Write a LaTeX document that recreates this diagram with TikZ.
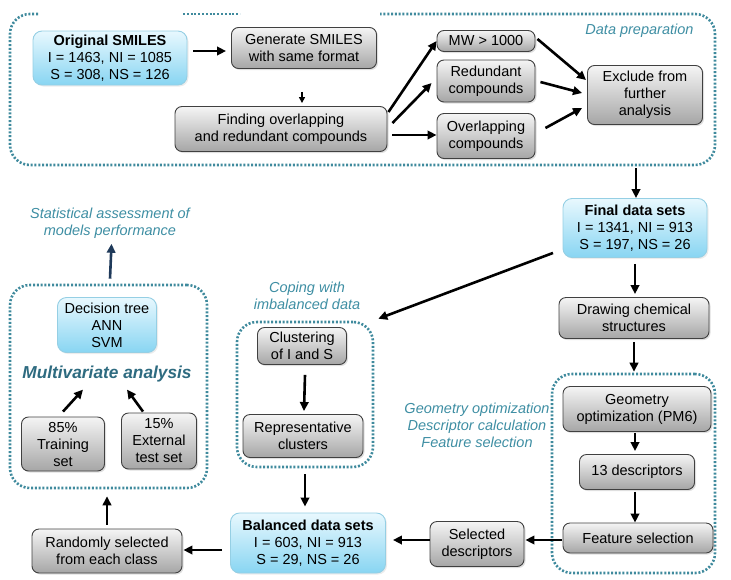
\documentclass[tikz,border=0pt]{standalone}
\usepackage{fontspec}
\setmainfont{Liberation Sans}
\usepackage{tikz}
\usetikzlibrary{arrows.meta}
\usetikzlibrary{shadows}

\definecolor{tealline}{HTML}{3F8A9D}
\definecolor{tealtext}{HTML}{3E8EA3}
\definecolor{tealdark}{HTML}{2E6B80}
\definecolor{navyarrow}{HTML}{1F3A5A}
\definecolor{bluetop}{HTML}{E8F8FE}
\definecolor{bluebot}{HTML}{88D5F2}
\definecolor{blueline}{HTML}{95CFE4}

\begin{document}
\begin{tikzpicture}[x=1pt, y=-1pt,
        font=\fontsize{14.5}{17}\selectfont,
        graybox/.style={draw=black!75, line width=0.9pt, rounded corners=7pt, align=center,
            top color=black!4, bottom color=black!35, inner sep=1pt,
            drop shadow={shadow xshift=1.5pt, shadow yshift=-1.5pt, opacity=0.25}},
        bluebox/.style={draw=blueline, line width=0.9pt, rounded corners=9pt, align=center,
            top color=bluetop, bottom color=bluebot, inner sep=1pt,
            drop shadow={shadow xshift=1.5pt, shadow yshift=-1.5pt, opacity=0.15}},
        grpline/.style={draw=tealline, line width=2.6pt, dash pattern=on 2pt off 1.8pt},
        grpbox/.style={grpline, rounded corners=20pt, inner sep=0pt},
        note/.style={text=tealtext, font=\fontsize{14.5}{17}\selectfont\itshape, align=center},
        arr/.style={-{Triangle[length=9pt,width=8.5pt]}, line width=2.6pt}]
    \useasboundingbox (0,0) rectangle (731,579);

    % data preparation
    \draw[grpline, rounded corners=20pt] (38,14) -- (10,14) -- (10,165) -- (715,165) -- (715,14) -- (380,14);
    \draw[grpline] (183,14) -- (240,14);
    \node[note, anchor=east] (prep) at (697,31) {Data preparation};

    \node[bluebox, minimum width=154pt, minimum height=54pt] (orig) at (110,58)
        {\textbf{Original SMILES}\\I = 1463, NI = 1085\\S = 308, NS = 126};
    \node[graybox, minimum width=145pt, minimum height=41pt] (gen) at (304,48) {Generate SMILES\\with same format};
    \node[graybox, minimum width=212pt, minimum height=45pt] (find) at (281,129) {Finding overlapping\\and redundant compounds};
    \node[graybox, minimum width=98pt, minimum height=21pt] (mw) at (486,41) {MW > 1000};
    \node[graybox, minimum width=98pt, minimum height=42pt] (red) at (486,81) {Redundant\\compounds};
    \node[graybox, minimum width=98pt, minimum height=45pt] (ovl) at (486,136) {Overlapping\\compounds};
    \node[graybox, minimum width=115pt, minimum height=59pt] (excl) at (645,95) {Exclude from\\further\\analysis};
    \coordinate (prepout) at (636,168);

    \draw[arr] ([xshift=6pt, yshift=7pt]orig.east) -- ([xshift=-5pt, yshift=-3pt]gen.west);
    \draw[-{Triangle[length=6pt,width=6pt]}, line width=1.5pt] ([xshift=-2pt, yshift=-23pt]gen.south) -- ([xshift=-2pt, yshift=3pt]gen.south |- find.north);
    \draw[arr] ([xshift=1pt, yshift=17pt]find.east) -- (mw.west);
    \draw[arr] ([xshift=5pt, yshift=6pt]find.east) -- ([xshift=-5pt, yshift=-2pt]red.west);
    \draw[arr] ([xshift=5pt, yshift=-6pt]find.east) -- ([yshift=1pt]ovl.west);
    \draw[arr] ([xshift=2pt, yshift=2pt]mw.east) -- ([xshift=-1pt, yshift=15pt]excl.west);
    \draw[arr] ([xshift=5pt, yshift=-1pt]red.east) -- ([xshift=-5pt, yshift=2pt]excl.west);
    \draw[arr] ([xshift=10pt, yshift=8pt]ovl.east) -- ([xshift=-5pt, yshift=-13pt]excl.west);

    % right column
    \node[bluebox, minimum width=144pt, minimum height=59pt] (final) at (635,228)
        {\textbf{Final data sets}\\I = 1341, NI = 913\\S = 197, NS = 26};
    \node[graybox, minimum width=150pt, minimum height=41pt] (drawcs) at (634,318) {Drawing chemical\\structures};
    \node[grpbox, minimum width=163pt, minimum height=199pt] (geogrp) at (633.5,473.5) {};
    \node[graybox, minimum width=148pt, minimum height=45pt] (geo) at (637,409) {Geometry\\optimization (PM6)};
    \node[graybox, minimum width=115pt, minimum height=35pt] (desc) at (637,472) {13 descriptors};
    \node[graybox, minimum width=150pt, minimum height=30pt] (feat) at (638,538) {Feature selection};
    \node[note] (geonote) at (477,425) {Geometry optimization\\Descriptor calculation\\Feature selection};

    \draw[arr] (prepout) -- (prepout |- final.north);
    \draw[arr] ([yshift=-6pt]final.south) -- ([yshift=3pt]final.south |- drawcs.north);
    \draw[arr] ([yshift=-3pt]drawcs.south) -- ([yshift=1pt]drawcs.south |- geogrp.north);
    \draw[arr] ([xshift=-2pt, yshift=-1pt]geo.south) -- ([xshift=-2pt, yshift=3pt]geo.south |- desc.north);
    \draw[arr] ([xshift=-2pt, yshift=-2pt]desc.south) -- ([xshift=-2pt]desc.south |- feat.north);

    % bottom row
    \node[graybox, minimum width=94pt, minimum height=45pt] (sel) at (477,544) {Selected\\descriptors};
    \node[bluebox, minimum width=155pt, minimum height=60pt] (bal) at (308,543)
        {\textbf{Balanced data sets}\\I = 603, NI = 913\\S = 29, NS = 26};
    \node[graybox, minimum width=150pt, minimum height=44pt] (rand) at (107,551) {Randomly selected\\from each class};

    \draw[arr] ([xshift=-1pt, yshift=-2pt]feat.west) -- ([xshift=1pt, yshift=4pt]sel.east);
    \draw[arr] ([yshift=4pt]sel.west) -- ([xshift=7pt, yshift=3pt]bal.east);
    \draw[arr] ([xshift=-8pt, yshift=-7pt]bal.west) -- ([xshift=1pt, yshift=1pt]rand.east);

    % coping with imbalanced data
    \node[note] (copnote) at (307,296) {Coping with\\imbalanced data};
    \node[grpbox, minimum width=136pt, minimum height=145pt] (copgrp) at (305,394.5) {};
    \node[graybox, minimum width=89pt, minimum height=37pt] (clus) at (302,346) {Clustering\\of I and S};
    \node[graybox, minimum width=120pt, minimum height=43pt] (rep) at (303,436) {Representative\\clusters};

    \draw[arr] ([xshift=-82pt, yshift=5pt]final.south) -- ([xshift=4pt, yshift=2pt]copgrp.north east);
    \draw[arr] ([xshift=3pt, yshift=-10pt]clus.south) -- ([xshift=2pt, yshift=3pt]clus.south |- rep.north);
    \draw[arr] ([yshift=-6pt]copgrp.south) -- ([yshift=6pt]copgrp.south |- bal.north);

    % multivariate analysis
    \node[grpbox, minimum width=197pt, minimum height=203pt] (multgrp) at (108.5,386.5) {};
    \node[bluebox, minimum width=99pt, minimum height=55pt] (dec) at (107,325) {Decision tree\\ANN\\SVM};
    \node[text=tealdark, font=\fontsize{17.3}{20}\selectfont\bfseries\itshape] (mult) at (107,374) {Multivariate analysis};
    \node[graybox, minimum width=83pt, minimum height=54pt] (train) at (63,444) {85\%\\Training\\set};
    \node[graybox, minimum width=75pt, minimum height=56pt] (ext) at (159,441) {15\%\\External\\test set};
    \node[note] (stat) at (110,223) {Statistical assessment of\\models performance};

    \draw[arr] ([yshift=4pt]rand.north) -- ([yshift=-7pt]rand.north |- multgrp.south);
    \draw[arr] ([yshift=5pt]train.north) -- ([xshift=-24pt, yshift=-4pt]mult.south);
    \draw[arr] ([xshift=-16pt, yshift=1pt]ext.north) -- ([xshift=20pt, yshift=-4pt]mult.south);
    \draw[arr, draw=navyarrow] ([xshift=1.5pt, yshift=5pt]multgrp.north) -- ([xshift=1.5pt, yshift=-2pt]stat.south);
\end{tikzpicture}
\end{document}
